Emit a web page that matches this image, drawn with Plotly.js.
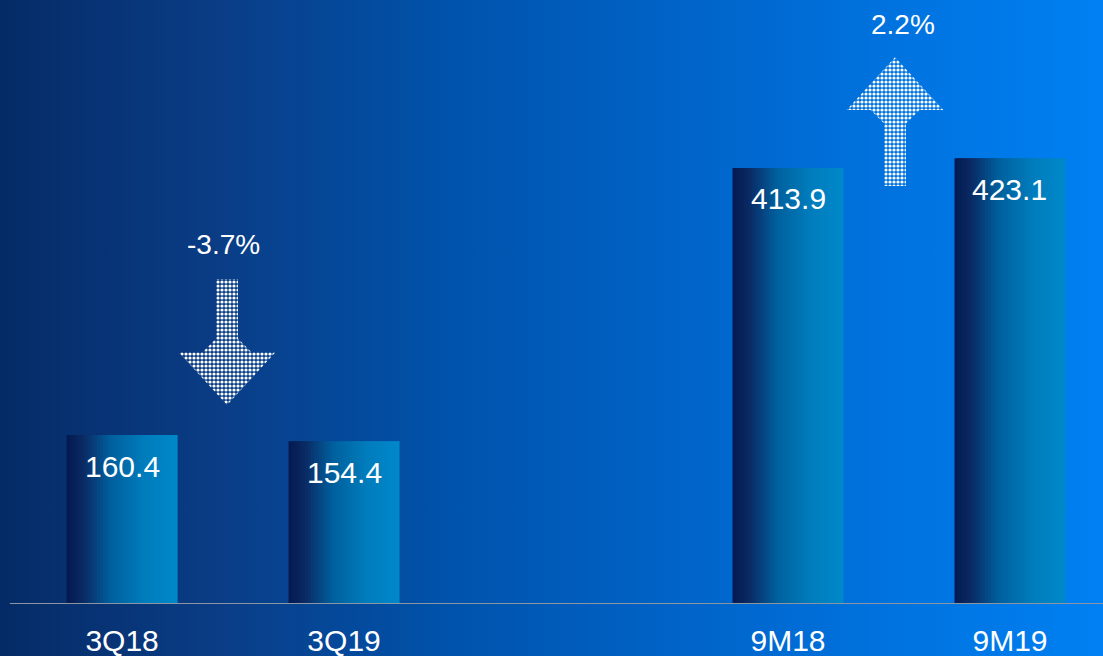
<!DOCTYPE html>
<html>
<head>
<meta charset="utf-8">
<script src="https://cdn.plot.ly/plotly-3.0.1.min.js"></script>
<style>
  html, body { margin: 0; padding: 0; }
  #chart {
    width: 1103px; height: 656px;
    background: linear-gradient(to right, #052b66 0%, #0a3d86 20%, #0052aa 40%, #0062c6 60%, #0072de 80%, #0080f2 100%);
  }
</style>
</head>
<body>
<div id="chart"></div>
<script>
// ---- data ----
const categories = ['3Q18', '3Q19', '9M18', '9M19'];
const values = [160.4, 154.4, 413.9, 423.1];
const changeLabels = ['-3.7%', '2.2%'];
const axisOrder = ['3Q18', '3Q19', ' ', '9M18', '9M19'];

// ---- styling helpers ----
const gradStops = [
  [0.00, [5, 24, 80]],
  [0.15, [10, 42, 100]],
  [0.40, [0, 96, 158]],
  [0.70, [0, 124, 188]],
  [1.00, [0, 136, 202]]
];
function colorAt(t) {
  for (let i = 0; i < gradStops.length - 1; i++) {
    const [t0, c0] = gradStops[i], [t1, c1] = gradStops[i + 1];
    if (t >= t0 && t <= t1) {
      const f = (t - t0) / (t1 - t0);
      const c = c0.map((v, k) => Math.round(v + (c1[k] - v) * f));
      return 'rgb(' + c.join(',') + ')';
    }
  }
  return 'rgb(' + gradStops[gradStops.length - 1][1].join(',') + ')';
}

const barW = 0.5, N = 40, step = barW / N;
const traces = [];
for (let i = 0; i < N; i++) {
  const off = -barW / 2 + i * step;
  const w = Math.min(step * 1.8, barW / 2 - off);
  traces.push({
    type: 'bar', x: categories, y: values,
    offset: off, width: w,
    marker: { color: colorAt((i + 0.5) / N), line: { width: 0 } },
    hoverinfo: 'skip', showlegend: false
  });
}

// decorative arrows (on an overlaying linear axis)
function arrow(xc, yTail, yTip) {
  const dir = Math.sign(yTip - yTail);
  const headLen = 50, notch = 13;
  const sw = 0.049, iw = 0.11, ow = 0.218;
  const base = yTip - dir * headLen;
  const junc = base - dir * notch;
  const xs = [xc - sw, xc - sw, xc - iw, xc - ow, xc, xc + ow, xc + iw, xc + sw, xc + sw, xc - sw];
  const ys = [yTail, junc, base, base, yTip, base, base, junc, yTail, yTail];
  return {
    type: 'scatter', mode: 'lines', x: xs, y: ys, xaxis: 'x2', yaxis: 'y',
    fill: 'toself', fillcolor: 'rgba(255,255,255,0.1)',
    fillpattern: { shape: '.', fgcolor: '#ffffff', bgcolor: 'rgba(0,0,0,0)', size: 4, solidity: 0.5 },
    line: { color: 'rgba(0,0,0,0)', width: 0 },
    hoverinfo: 'skip', showlegend: false
  };
}
traces.push(arrow(0.473, 308.5, 189));
traces.push(arrow(3.482, 396.8, 519));

const fontFam = '"Liberation Sans", Arial, sans-serif';
const annotations = categories.map((c, i) => ({
  x: c, y: values[i], xref: 'x', yref: 'y',
  text: values[i].toFixed(1), showarrow: false, yshift: -31,
  font: { family: fontFam, size: 30, color: '#ffffff' }
}));
const changePos = [[0.455, 341.7], [3.5, 550.5]];
changeLabels.forEach((t, i) => annotations.push({
  x: changePos[i][0] + (i === 1 ? 0.018 : 0), y: changePos[i][1], xref: 'x2', yref: 'y',
  text: t, showarrow: false,
  font: { family: fontFam, size: 28, color: '#ffffff' }
}));

const xr = [-0.55, 4.419];
const layout = {
  width: 1103, height: 656,
  margin: { l: 0, r: 0, t: 0, b: 52, pad: 0 },
  paper_bgcolor: 'rgba(0,0,0,0)', plot_bgcolor: 'rgba(0,0,0,0)',
  barmode: 'overlay',
  showlegend: false,
  xaxis: {
    type: 'category', categoryorder: 'array', categoryarray: axisOrder,
    range: xr, showgrid: false, zeroline: false, showline: false,
    ticks: '', ticklabelstandoff: 16,
    tickfont: { family: fontFam, size: 30, color: '#ffffff' }, fixedrange: true
  },
  xaxis2: { overlaying: 'x', range: xr, visible: false, anchor: 'y' },
  yaxis: { range: [0, 573.3], visible: false, showgrid: false, zeroline: false },
  shapes: [{
    type: 'line', xref: 'paper', yref: 'y', x0: 0.009, x1: 1, y0: 0, y1: 0,
    line: { color: '#8c96a2', width: 2 }
  }],
  annotations: annotations
};

Plotly.newPlot('chart', traces, layout, { displayModeBar: false, staticPlot: true });
</script>
</body>
</html>
